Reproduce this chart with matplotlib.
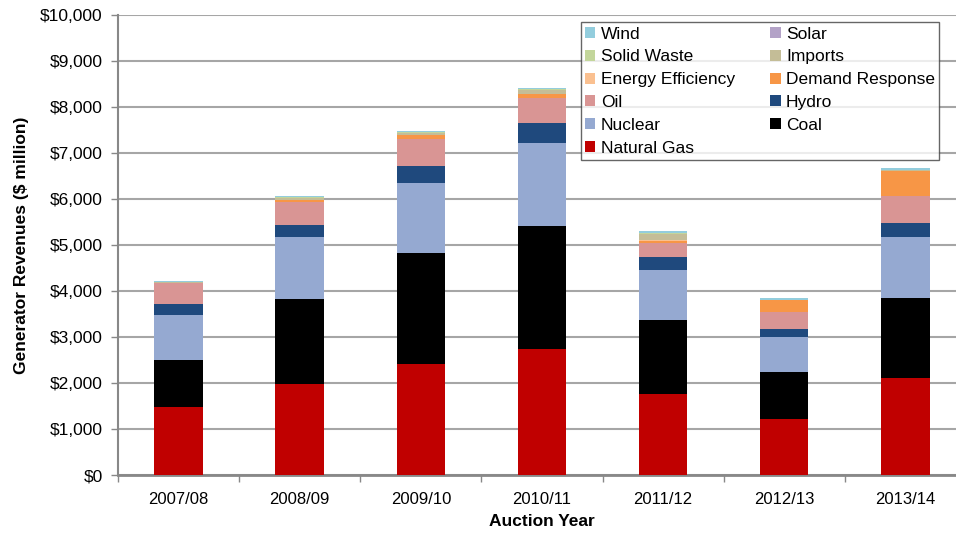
import matplotlib

matplotlib.use("Agg")
import matplotlib.pyplot as plt
import numpy as np

plt.rcParams["font.family"] = ["Liberation Sans", "DejaVu Sans"]

years = ["2007/08", "2008/09", "2009/10", "2010/11", "2011/12", "2012/13", "2013/14"]

# $ million, bottom to top of each stack
natural_gas = [1485, 1970, 2405, 2739, 1753, 1217, 2116]
coal = [1015, 1850, 2428, 2681, 1609, 1015, 1732]
nuclear = [990, 1350, 1522, 1790, 1088, 775, 1322]
hydro = [220, 265, 362, 450, 289, 174, 310]
oil = [460, 495, 587, 536, 311, 362, 580]
demand_response = [0, 40, 85, 87, 30, 269, 545]
energy_efficiency = [0, 15, 10, 10, 20, 0, 0]
imports = [25, 40, 30, 80, 150, 0, 20]
solid_waste = [0, 15, 20, 10, 10, 0, 10]
solar = [0, 0, 0, 0, 0, 0, 0]
wind = [20, 25, 35, 40, 50, 36, 40]

series = [
    ("Natural Gas", natural_gas, "#C00000"),
    ("Coal", coal, "#000000"),
    ("Nuclear", nuclear, "#95A9D1"),
    ("Hydro", hydro, "#1F497D"),
    ("Oil", oil, "#D99594"),
    ("Demand Response", demand_response, "#F79646"),
    ("Energy Efficiency", energy_efficiency, "#FAC090"),
    ("Imports", imports, "#C4BD97"),
    ("Solid Waste", solid_waste, "#C3D69B"),
    ("Solar", solar, "#B3A2C7"),
    ("Wind", wind, "#93CDDD"),
]

fig = plt.figure(figsize=(9.56, 5.38), dpi=100)
ax = fig.add_axes([0.1234, 0.117, 0.887, 0.855])

x = np.arange(len(years))
bottom = np.zeros(len(years))
handles = {}
for name, vals, color in series:
    vals = np.array(vals, dtype=float)
    h = ax.bar(x, vals, width=0.40, bottom=bottom, color=color, edgecolor="none", zorder=3)
    handles[name] = h
    bottom += vals

ax.set_xlim(-0.5, len(years) - 0.5)
ax.set_ylim(0, 10000)
ax.set_yticks(np.arange(0, 10001, 1000))
ax.set_yticklabels([f"${v:,.0f}" for v in np.arange(0, 10001, 1000)])
ax.set_xticks(x)
ax.set_xticklabels(years)
ax.set_xticks(np.arange(-0.5, len(years), 1), minor=True)
ax.tick_params(axis="x", which="major", length=0, pad=12, labelsize=12)
ax.tick_params(axis="x", which="minor", length=5, color="#888888", width=1)
ax.tick_params(axis="y", length=5, color="#888888", width=1, labelsize=12.5, pad=6)

ax.grid(axis="y", color="#A6A6A6", linewidth=1.5, zorder=0)
for s in ["top", "right"]:
    ax.spines[s].set_visible(False)
ax.spines["left"].set_color("#888888")
ax.spines["left"].set_linewidth(1.5)
ax.spines["bottom"].set_color("#888888")
ax.spines["bottom"].set_linewidth(2)

ax.set_xlabel("Auction Year", fontsize=12.5, fontweight="bold", labelpad=5)
ax.set_ylabel("Generator Revenues ($ million)", fontsize=12.5, fontweight="bold", labelpad=8)

order = ["Wind", "Solid Waste", "Energy Efficiency", "Oil", "Nuclear", "Natural Gas",
         "Solar", "Imports", "Demand Response", "Hydro", "Coal"]
leg = ax.legend(
    [handles[n] for n in order],
    order,
    ncol=2,
    loc="upper left",
    bbox_to_anchor=(580.7 / 956, 1 - 22.3 / 538),
    bbox_transform=fig.transFigure,
    fontsize=12.5,
    frameon=True,
    fancybox=False,
    edgecolor="#404040",
    handlelength=0.6,
    handleheight=0.6,
    handletextpad=0.3,
    columnspacing=2.05,
    labelspacing=0.45,
    borderpad=0.25,
    borderaxespad=0,
)
leg.get_frame().set_linewidth(1.0)
leg.set_zorder(5)

fig.savefig("out.png", dpi=100)
